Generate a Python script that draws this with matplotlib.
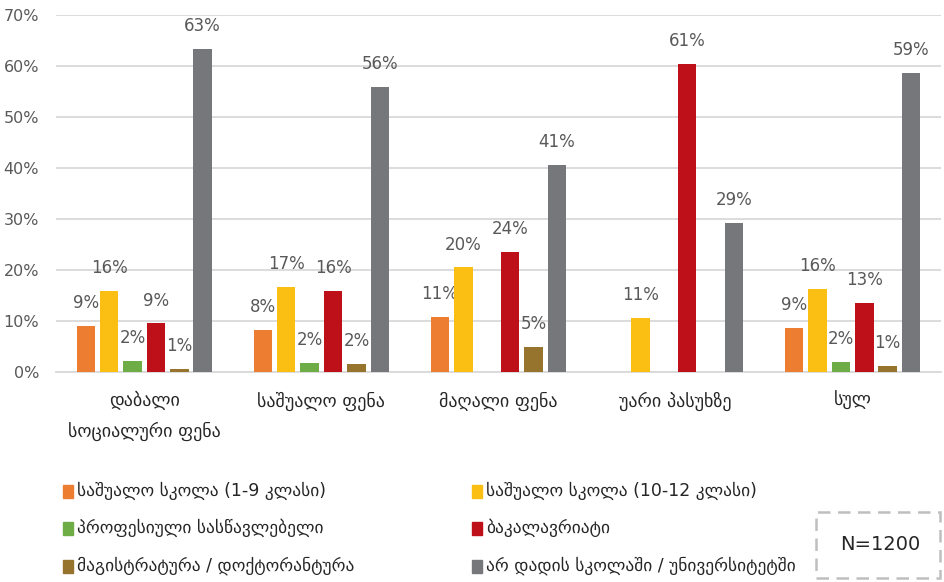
import matplotlib
matplotlib.use("Agg")
import matplotlib.pyplot as plt
from matplotlib.patches import Rectangle
import numpy as np

plt.rcParams['font.family'] = ['DejaVu Sans']

categories = ["დაბალი\nსოციალური ფენა", "საშუალო ფენა", "მაღალი ფენა", "უარი პასუხზე", "სულ"]
series_names = [
    "საშუალო სკოლა (1-9 კლასი)",
    "საშუალო სკოლა (10-12 კლასი)",
    "პროფესიული სასწავლებელი",
    "ბაკალავრიატი",
    "მაგისტრატურა / დოქტორანტურა",
    "არ დადის სკოლაში / უნივერსიტეტში",
]
values = {
    series_names[0]: [9.0, 8.2, 10.7, 0.0, 8.6],
    series_names[1]: [15.8, 16.6, 20.5, 10.6, 16.3],
    series_names[2]: [2.2, 1.8, 0.0, 0.0, 1.9],
    series_names[3]: [9.5, 15.9, 23.6, 60.5, 13.5],
    series_names[4]: [0.5, 1.6, 4.9, 0.0, 1.2],
    series_names[5]: [63.3, 55.9, 40.6, 29.2, 58.7],
}
labels = {
    series_names[0]: ["9%", "8%", "11%", "", "9%"],
    series_names[1]: ["16%", "17%", "20%", "11%", "16%"],
    series_names[2]: ["2%", "2%", "", "", "2%"],
    series_names[3]: ["9%", "16%", "24%", "61%", "13%"],
    series_names[4]: ["1%", "2%", "5%", "", "1%"],
    series_names[5]: ["63%", "56%", "41%", "29%", "59%"],
}
colors = ["#ED7D31", "#FBBF14", "#6EAD45", "#BE1019", "#97742E", "#76777B"]
yticks = [0, 10, 20, 30, 40, 50, 60, 70]
ytick_labels = ["0%", "10%", "20%", "30%", "40%", "50%", "60%", "70%"]

fig = plt.figure(figsize=(9.44, 5.82), dpi=100)
ax = fig.add_axes([0.059, 0.361, 0.938, 0.613])

x = np.arange(len(categories))
step = 0.132
width = 0.104
txtc = "#595959"
for i, name in enumerate(series_names):
    pos = x + (i - 2.5) * step
    vals = values[name]
    ax.bar(pos, vals, width=width, color=colors[i], zorder=3)
    for p, v, lab in zip(pos, vals, labels[name]):
        if lab:
            ax.annotate(lab, (p, v), xytext=(0, 10), textcoords="offset points",
                        ha="center", va="bottom", fontsize=12, color=txtc)

ax.set_xlim(-0.5, len(categories) - 0.5)
ax.set_ylim(0, 70)
ax.set_yticks(yticks)
ax.set_yticklabels(ytick_labels, fontsize=11.5, color=txtc)
ax.set_xticks(x)
ax.set_xticklabels(categories, fontsize=13, color="#262626", linespacing=1.75)
ax.tick_params(axis="both", length=0)
ax.tick_params(axis="y", pad=12)
ax.tick_params(axis="x", pad=14)
ax.yaxis.grid(True, color="#D9D9D9", linewidth=1.3, zorder=0)
ax.set_axisbelow(True)
for s in ["top", "right", "left"]:
    ax.spines[s].set_visible(False)
ax.spines["bottom"].set_color("#D9D9D9")
ax.spines["bottom"].set_linewidth(1.3)

# legend
rows_y = [491, 528, 566]
cols_x = [63, 472]
for i, name in enumerate(series_names):
    r, c = i // 2, i % 2
    xp = cols_x[c] / 944
    yp = 1 - rows_y[r] / 582
    fig.patches.append(Rectangle((xp, yp - 6.5 / 582), 10 / 944, 13 / 582,
                                 transform=fig.transFigure, color=colors[i]))
    fig.text(xp + 14 / 944, yp, name, fontsize=12.5, color="#262626",
             va="center", ha="left")

# N box
box = Rectangle((816 / 944, 1 - 578 / 582), 124 / 944, 66 / 582,
                transform=fig.transFigure, fill=False, edgecolor="#BFBFBF",
                linewidth=1.8, linestyle=(0, (5, 3)))
fig.patches.append(box)
fig.text(880 / 944, 1 - 545 / 582, "N=1200", fontsize=14, color="#262626",
         ha="center", va="center")

fig.savefig("out.png", dpi=100)
